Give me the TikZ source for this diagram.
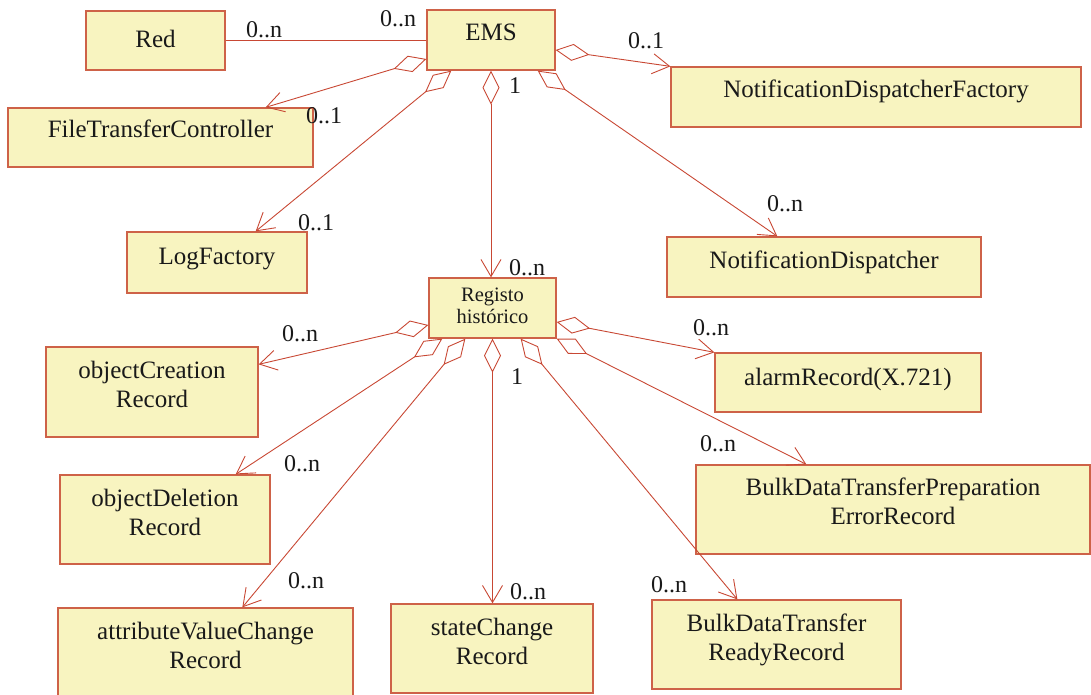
\documentclass[tikz,border=0pt]{standalone}
\usepackage{fontspec}
\setmainfont{Liberation Serif}
\usetikzlibrary{arrows.meta,calc}
\definecolor{boxfill}{RGB}{248,244,192}
\definecolor{boxline}{RGB}{206,98,72}
\definecolor{conn}{RGB}{200,72,52}
\begin{document}
\begin{tikzpicture}[x=1pt,y=-1pt,
  cls/.style={draw=boxline, fill=boxfill, line width=1.3pt, rectangle, inner sep=0pt},
  txt/.style={font=\fontsize{25}{29}\selectfont, inner sep=0pt, align=center, text=black!90},
  small/.style={font=\fontsize{20.5}{22}\selectfont, inner sep=0pt, align=center, text=black!90},
  lab/.style={font=\fontsize{24}{24}\selectfont, inner sep=0pt, text=black!90},
  plain/.style={draw=conn, line width=0.9pt},
  agg/.style={draw=conn, line width=0.9pt, {Diamond[open,length=34pt,width=17pt]}-{Straight Barb[length=17pt,width=20pt]}},
  ]
\useasboundingbox (0,0) rectangle (1091,695);

% boxes
\node[cls, minimum width=139pt, minimum height=59pt] (red) at (155.5,40.5) {};
\node[cls, minimum width=128pt, minimum height=60pt] (ems) at (491,40) {};
\node[cls, minimum width=410pt, minimum height=60pt] (ndf) at (876,97) {};
\node[cls, minimum width=305pt, minimum height=59pt] (ftc) at (160.5,137.5) {};
\node[cls, minimum width=180pt, minimum height=61pt] (logf) at (217,262.5) {};
\node[cls, minimum width=314pt, minimum height=60pt] (nd) at (824,267) {};
\node[cls, minimum width=127pt, minimum height=60pt] (reg) at (492.5,308) {};
\node[cls, minimum width=212pt, minimum height=90pt] (oc) at (152,392) {};
\node[cls, minimum width=266pt, minimum height=59pt] (ar) at (848,382.5) {};
\node[cls, minimum width=210pt, minimum height=89pt] (od) at (165,519.5) {};
\node[cls, minimum width=394pt, minimum height=89pt] (bp) at (893,509.5) {};
\node[cls, minimum width=295pt, minimum height=88pt] (av) at (205.5,652) {};
\node[cls, minimum width=202pt, minimum height=89pt] (sc) at (492,648.5) {};
\node[cls, minimum width=249pt, minimum height=89pt] (br) at (776.5,644.5) {};

% texts
\node[txt, anchor=base] (tred) at (155.5,48) {Red};
\node[txt, anchor=base] (tems) at (491,41) {EMS};
\node[txt, anchor=base] (tndf) at (876,98) {NotificationDispatcherFactory};
\node[txt, anchor=base] (tftc) at (160.5,138) {FileTransferController};
\node[txt, anchor=base] (tlogf) at (217,264) {LogFactory};
\node[txt, anchor=base] (tnd) at (824,268) {NotificationDispatcher};
\node[txt, anchor=base] (tar) at (848,385) {alarmRecord(X.721)};
\node[small] (treg) at (492.5,305.5) {Registo\\histórico};
\node[txt] (toc) at (152,384.5) {objectCreation\\Record};
\node[txt] (tod) at (165,512.5) {objectDeletion\\Record};
\node[txt] (tbp) at (893,501) {BulkDataTransferPreparation\\ErrorRecord};
\node[txt] (tav) at (205.5,645) {attributeValueChange\\Record};
\node[txt] (tsc) at (492,641.5) {stateChange\\Record};
\node[txt] (tbr) at (776.5,640) {BulkDataTransfer\\ReadyRecord};

% connectors
\draw[plain] (red.east) -- (red.east -| ems.west);
\draw[agg] ([yshift=-10pt]ems.east) -- (ndf.north west);
\draw[agg] ([yshift=-19pt]ems.west) -- ([xshift=-48pt]ftc.north east);
\draw[agg] ([xshift=25pt]ems.south west) -- ([xshift=-52pt]logf.north east);
\draw[agg] (ems.south) -- (ems.south |- reg.north);
\draw[agg] ([xshift=-18pt]ems.south east) -- ([xshift=111pt]nd.north west);

\draw[agg] ([yshift=-17pt]reg.west) -- ([yshift=-18pt]oc.north east);
\draw[agg] ([xshift=14pt]reg.south west) -- ([xshift=-35pt]od.north east);
\draw[agg] ([xshift=37pt]reg.south west) -- ([xshift=185pt]av.north west);
\draw[agg] (reg.south) -- (reg.south |- sc.north);
\draw[agg] ([xshift=-36pt]reg.south east) -- ([xshift=86pt]br.north west);
\draw[agg] (reg.south east) -- ([xshift=111pt]bp.north west);
\draw[agg] ([yshift=-14pt]reg.east) -- (ar.north west);

% multiplicities
\node[lab] (m1) at (264,30) {0..n};
\node[lab] (m2) at (398,19) {0..n};
\node[lab] (m3) at (646,41) {0..1};
\node[lab] (m4) at (324,116) {0..1};
\node[lab] (m5) at (316,223) {0..1};
\node[lab] (m6) at (515,86) {1};
\node[lab] (m7) at (527,268) {0..n};
\node[lab] (m8) at (785,204) {0..n};
\node[lab] (m9) at (300,334) {0..n};
\node[lab] (m10) at (302,464) {0..n};
\node[lab] (m11) at (711,328) {0..n};
\node[lab] (m12) at (517,377) {1};
\node[lab] (m13) at (718,444) {0..n};
\node[lab] (m14) at (306,581) {0..n};
\node[lab] (m15) at (528,592) {0..n};
\node[lab] (m16) at (669,585) {0..n};
\end{tikzpicture}
\end{document}
